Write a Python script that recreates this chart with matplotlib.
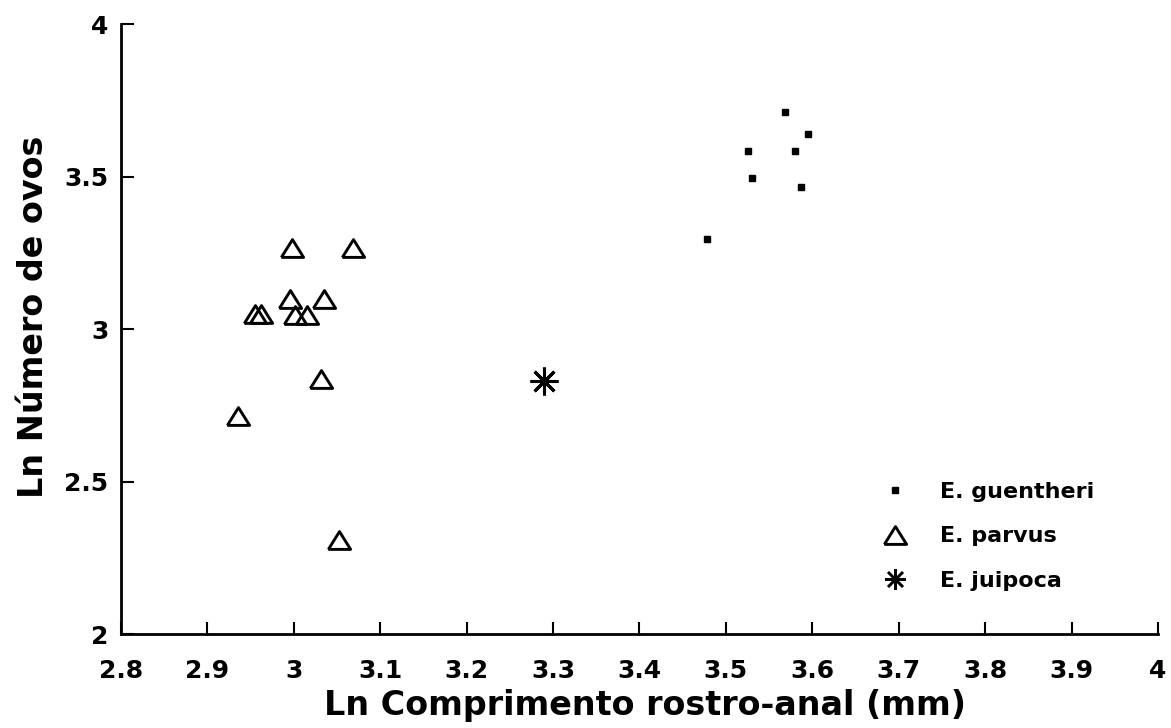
import matplotlib
matplotlib.use("Agg")
import matplotlib.pyplot as plt

# ==========================================
# Data (ln values)
# ==========================================
guentheri_x = [3.568, 3.595, 3.526, 3.580, 3.530, 3.587, 3.478]
guentheri_y = [3.711, 3.639, 3.584, 3.584, 3.495, 3.466, 3.295]

parvus_x = [2.998, 3.069, 2.996, 3.035, 2.955, 2.962, 3.001, 3.015, 3.031, 2.935, 3.052]
parvus_y = [3.266, 3.266, 3.098, 3.098, 3.049, 3.049, 3.046, 3.046, 2.836, 2.715, 2.308]

juipoca_x = [3.289]
juipoca_y = [2.830]

x_ticks = [2.8, 2.9, 3.0, 3.1, 3.2, 3.3, 3.4, 3.5, 3.6, 3.7, 3.8, 3.9, 4.0]
x_tick_labels = ["2.8", "2.9", "3", "3.1", "3.2", "3.3", "3.4", "3.5", "3.6", "3.7", "3.8", "3.9", "4"]
y_ticks = [2.0, 2.5, 3.0, 3.5, 4.0]
y_tick_labels = ["2", "2.5", "3", "3.5", "4"]

species = ["E. guentheri", "E. parvus", "E. juipoca"]

plt.rcParams['font.family'] = ['DejaVu Sans']
plt.rcParams['font.weight'] = 'bold'

fig = plt.figure(figsize=(11.71, 7.28), dpi=100)
ax = fig.add_axes([0.1033, 0.129, 0.8856, 0.838])

# flattened open triangle (wider than tall)
tri = [(-1.0, -0.8), (1.0, -0.8), (0.0, 0.8), (-1.0, -0.8)]

ax.plot(guentheri_x, guentheri_y, ls='none', marker='s', ms=5, color='black',
        label=species[0])
ax.plot(parvus_x, parvus_y, ls='none', marker=tri, ms=16, mfc='none', mec='black',
        mew=2.1, label=species[1])
ax.plot(juipoca_x, juipoca_y, ls='none', marker=(8, 2, 0), ms=20, mec='black',
        mew=2.2, label=species[2])

ax.set_xlim(2.8, 4.0)
ax.set_ylim(2.0, 4.0)
ax.set_xticks(x_ticks)
ax.set_xticklabels(x_tick_labels)
ax.set_yticks(y_ticks)
ax.set_yticklabels(y_tick_labels)

for side in ['top', 'right']:
    ax.spines[side].set_visible(False)
for side in ['left', 'bottom']:
    ax.spines[side].set_linewidth(2.0)

ax.tick_params(axis='both', direction='in', length=9, width=1.5, labelsize=18)
ax.tick_params(axis='x', pad=18)
ax.tick_params(axis='y', pad=9)

ax.set_xlabel("Ln Comprimento rostro-anal (mm)", fontsize=24, fontweight='bold')
ax.set_ylabel("Ln Número de ovos", fontsize=24, fontweight='bold')
ax.xaxis.set_label_coords(0.505, -0.09)
ax.yaxis.set_label_coords(-0.068, 0.52)

leg = ax.legend(loc='upper left', bbox_to_anchor=(0.7455, 0.338),
                bbox_transform=fig.transFigure, frameon=False, borderpad=0,
                borderaxespad=0, fontsize=16, handlelength=2.0,
                handletextpad=1.0, labelspacing=1.1)
leg.legend_handles[2].set_markersize(15)
leg.legend_handles[2].set_markeredgewidth(1.8)

fig.savefig("out.png", dpi=100)
